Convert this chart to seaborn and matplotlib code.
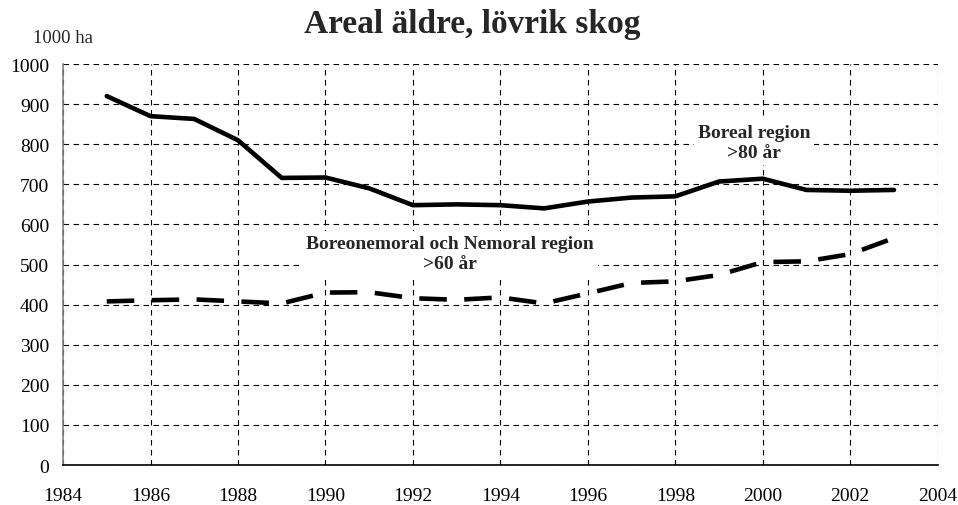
import pandas as pd
import matplotlib.pyplot as plt
import seaborn as sns

years = list(range(1985, 2004))
boreal = [920, 870, 863, 810, 716, 717, 690, 648, 650, 648, 640, 657, 667, 670, 707, 714, 686, 684, 686]
nemoral = [408, 411, 413, 408, 403, 430, 431, 416, 412, 418, 403, 428, 454, 458, 474, 506, 508, 526, 566]

df = pd.DataFrame({"year": years, "Boreal": boreal, "Nemoral": nemoral})

sns.set_style("white")
plt.rcParams["font.family"] = ["Liberation Serif", "DejaVu Serif"]

fig = plt.figure(figsize=(9.58, 5.06), dpi=100)
ax = fig.add_axes([0.0658, 0.079, 0.913, 0.7925])

sns.lineplot(data=df, x="year", y="Boreal", ax=ax, color="black", linewidth=3.3)
sns.lineplot(data=df, x="year", y="Nemoral", ax=ax, color="black", linewidth=3.3)
ax.lines[-1].set_dashes([6, 3.8])

ax.set_xlim(1984, 2004)
ax.set_ylim(0, 1000)
ax.set_xticks(range(1984, 2005, 2))
ax.set_yticks(range(0, 1001, 100))
ax.grid(True, color="black", linestyle=(0, (5, 4)), linewidth=0.8)
ax.set_axisbelow(True)
ax.set_xlabel("")
ax.set_ylabel("")
for s in ["top", "right"]:
    ax.spines[s].set_visible(False)
ax.spines["left"].set_color("#808080")
ax.spines["left"].set_linewidth(1.2)
ax.spines["bottom"].set_color("black")
ax.spines["bottom"].set_linewidth(1.2)
ax.tick_params(axis="y", labelsize=14, direction="out", length=5, width=1,
               colors="black", pad=5)
ax.tick_params(axis="x", labelsize=14, direction="inout", length=9, width=1,
               colors="black", pad=11)

fig.text(0.493, 0.935, "Areal äldre, lövrik skog", ha="center", va="baseline",
         fontsize=24, fontweight="bold")
fig.text(0.034, 0.915, "1000 ha", ha="left", va="baseline", fontsize=13.5)

box = dict(facecolor="white", edgecolor="none", pad=3)
ax.text(1999.8, 805, "Boreal region\n>80 år", ha="center", va="center",
        fontsize=14, fontweight="bold", bbox=box, linespacing=1.25)
ax.text(1992.85, 528, "Boreonemoral och Nemoral region\n>60 år", ha="center",
        va="center", fontsize=14, fontweight="bold", bbox=box, linespacing=1.25)

fig.savefig("out.png", dpi=100)
